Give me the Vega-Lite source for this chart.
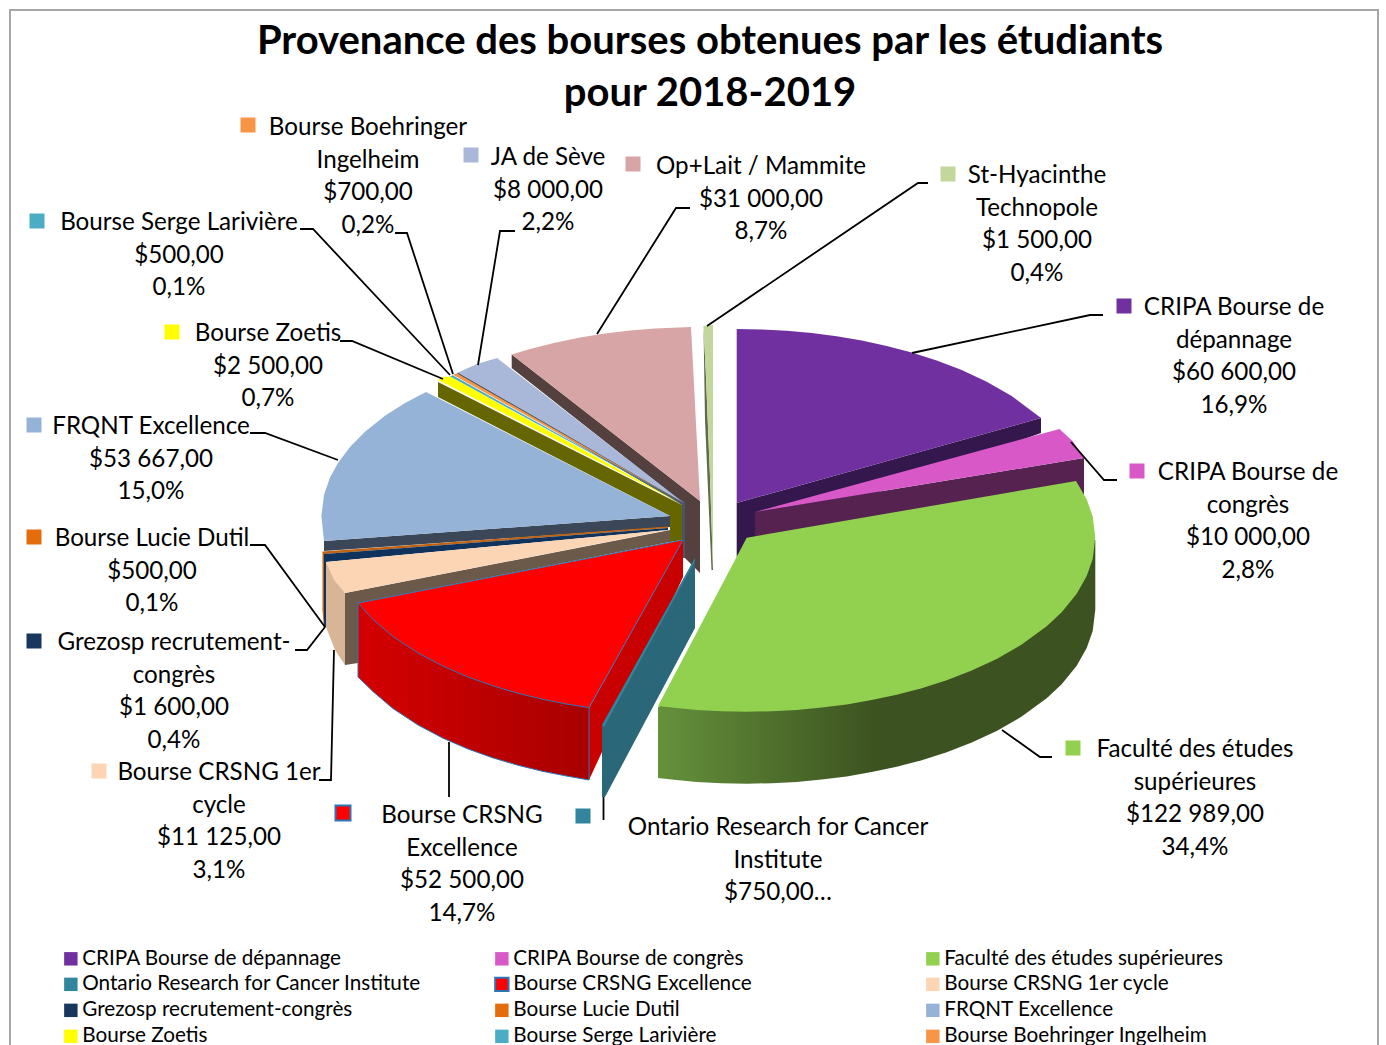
{
"$schema":"https://vega.github.io/schema/vega-lite/v6.json",
"width":1386,"height":1045,"padding":0,"autosize":"none","background":"white",
"config":{"view":{"stroke":null},"font":"Lato"},
"title":{"text":["Provenance des bourses obtenues par les étudiants","pour 2018-2019"],"font":"Lato","fontSize":40,"fontWeight":"bold","color":"#000000","lineHeight":52,"anchor":"middle","orient":"top","offset":0,"baseline":"top","dx":17,"dy":114},
"datasets":{
"border":[{"x":10,"y":1046,"step":1},{"x":10,"y":10,"step":2},{"x":1378,"y":10,"step":3},{"x":1378,"y":1046,"step":4}],
"slices":[
{"name":"CRIPA Bourse de dépannage","amount":60600,"label":"CRIPA Bourse de\ndépannage\n$60 600,00\n16,9%","labelX":1234,"labelY":307,"keyX":1124,"keyY":306},
{"name":"CRIPA Bourse de congrès","amount":10000,"label":"CRIPA Bourse de\ncongrès\n$10 000,00\n2,8%","labelX":1248,"labelY":472,"keyX":1137,"keyY":471},
{"name":"Faculté des études supérieures","amount":122989,"label":"Faculté des études\nsupérieures\n$122 989,00\n34,4%","labelX":1195,"labelY":749,"keyX":1073,"keyY":748},
{"name":"Ontario Research for Cancer Institute","amount":750,"label":"Ontario Research for Cancer\nInstitute\n$750,00…","labelX":778,"labelY":827,"keyX":583,"keyY":816},
{"name":"Bourse CRSNG Excellence","amount":52500,"label":"Bourse CRSNG\nExcellence\n$52 500,00\n14,7%","labelX":462,"labelY":815,"keyX":343,"keyY":813},
{"name":"Bourse CRSNG 1er cycle","amount":11125,"label":"Bourse CRSNG 1er\ncycle\n$11 125,00\n3,1%","labelX":219,"labelY":772,"keyX":99,"keyY":771},
{"name":"Grezosp recrutement-congrès","amount":1600,"label":"Grezosp recrutement-\ncongrès\n$1 600,00\n0,4%","labelX":174,"labelY":642,"keyX":34,"keyY":641},
{"name":"Bourse Lucie Dutil","amount":500,"label":"Bourse Lucie Dutil\n$500,00\n0,1%","labelX":152,"labelY":538,"keyX":34,"keyY":537},
{"name":"FRQNT Excellence","amount":53667,"label":"FRQNT Excellence\n$53 667,00\n15,0%","labelX":151,"labelY":426,"keyX":34,"keyY":425},
{"name":"Bourse Zoetis","amount":2500,"label":"Bourse Zoetis\n$2 500,00\n0,7%","labelX":268,"labelY":333,"keyX":172,"keyY":332},
{"name":"Bourse Serge Larivière","amount":500,"label":"Bourse Serge Larivière\n$500,00\n0,1%","labelX":179,"labelY":222,"keyX":37,"keyY":221},
{"name":"Bourse Boehringer Ingelheim","amount":700,"label":"Bourse Boehringer\nIngelheim\n$700,00\n0,2%","labelX":368,"labelY":127,"keyX":248,"keyY":125},
{"name":"JA de Sève","amount":8000,"label":"JA de Sève\n$8 000,00\n2,2%","labelX":548,"labelY":157,"keyX":471,"keyY":155},
{"name":"Op+Lait / Mammite","amount":31000,"label":"Op+Lait / Mammite\n$31 000,00\n8,7%","labelX":761,"labelY":166,"keyX":633,"keyY":164},
{"name":"St-Hyacinthe Technopole","amount":1500,"label":"St-Hyacinthe\nTechnopole\n$1 500,00\n0,4%","labelX":1037,"labelY":175,"keyX":948,"keyY":174}
],
"sides":[
{"part":"St-Hyacinthe","step":1,"x":703.5,"y":326},{"part":"St-Hyacinthe","step":2,"x":706,"y":377},{"part":"St-Hyacinthe","step":3,"x":710,"y":477},{"part":"St-Hyacinthe","step":4,"x":713,"y":570},{"part":"St-Hyacinthe","step":5,"x":711.5,"y":570},{"part":"St-Hyacinthe","step":6,"x":705,"y":420},
{"part":"Op+Lait","step":1,"x":511.7,"y":354.5},{"part":"Op+Lait","step":2,"x":511.7,"y":368},{"part":"Op+Lait","step":3,"x":683,"y":503},{"part":"Op+Lait","step":4,"x":685,"y":558},{"part":"Op+Lait","step":5,"x":700,"y":573},{"part":"Op+Lait","step":6,"x":700,"y":501},
{"part":"JA de Sève","step":1,"x":457,"y":374},{"part":"JA de Sève","step":2,"x":458,"y":372.5},{"part":"JA de Sève","step":3,"x":685,"y":502},{"part":"JA de Sève","step":4,"x":685,"y":558},{"part":"JA de Sève","step":5,"x":682,"y":558},{"part":"JA de Sève","step":6,"x":682,"y":505},
{"part":"Zoetis","step":1,"x":438,"y":382},{"part":"Zoetis","step":2,"x":438,"y":397},{"part":"Zoetis","step":3,"x":670,"y":516},{"part":"Zoetis","step":4,"x":670,"y":542},{"part":"Zoetis","step":5,"x":682,"y":540},{"part":"Zoetis","step":6,"x":682,"y":505},
{"part":"FRQNT","step":1,"x":324,"y":541},{"part":"FRQNT","step":2,"x":670,"y":516},{"part":"FRQNT","step":3,"x":670,"y":527},{"part":"FRQNT","step":4,"x":324,"y":551},
{"part":"Lucie Dutil","step":1,"x":322.5,"y":551.5},{"part":"Lucie Dutil","step":2,"x":668,"y":526.5},{"part":"Lucie Dutil","step":3,"x":668,"y":528},{"part":"Lucie Dutil","step":4,"x":324,"y":554},{"part":"Lucie Dutil","step":5,"x":324,"y":628},{"part":"Lucie Dutil","step":6,"x":322.5,"y":610},
{"part":"Grezosp","step":1,"x":324,"y":554},{"part":"Grezosp","step":2,"x":668,"y":528},{"part":"Grezosp","step":3,"x":668,"y":530},{"part":"Grezosp","step":4,"x":326,"y":562},{"part":"Grezosp","step":5,"x":326,"y":627},{"part":"Grezosp","step":6,"x":324,"y":628},
{"part":"1er cycle extérieur","step":1,"x":326,"y":562},{"part":"1er cycle extérieur","step":2,"x":345,"y":593},{"part":"1er cycle extérieur","step":3,"x":345,"y":665},{"part":"1er cycle extérieur","step":4,"x":335,"y":650},{"part":"1er cycle extérieur","step":5,"x":326,"y":627},
{"part":"1er cycle coupe","step":1,"x":345,"y":593},{"part":"1er cycle coupe","step":2,"x":670,"y":530},{"part":"1er cycle coupe","step":3,"x":670,"y":542},{"part":"1er cycle coupe","step":4,"x":358,"y":603},{"part":"1er cycle coupe","step":5,"x":358,"y":663},{"part":"1er cycle coupe","step":6,"x":345,"y":665},
{"part":"Excellence coupe","step":1,"x":589,"y":708},{"part":"Excellence coupe","step":2,"x":683,"y":540},{"part":"Excellence coupe","step":3,"x":683,"y":577},{"part":"Excellence coupe","step":4,"x":589,"y":780},
{"part":"Ontario","step":1,"x":695,"y":558},{"part":"Ontario","step":2,"x":695,"y":628},{"part":"Ontario","step":3,"x":605,"y":797},{"part":"Ontario","step":4,"x":602,"y":797},{"part":"Ontario","step":5,"x":602,"y":725},
{"part":"dépannage","step":1,"x":736.7,"y":503},{"part":"dépannage","step":2,"x":1041,"y":418},{"part":"dépannage","step":3,"x":1041,"y":433},{"part":"dépannage","step":4,"x":755,"y":537},{"part":"dépannage","step":5,"x":736.7,"y":557},
{"part":"congrès","step":1,"x":755,"y":512},{"part":"congrès","step":2,"x":1084,"y":458},{"part":"congrès","step":3,"x":1084,"y":497},{"part":"congrès","step":4,"x":1076,"y":500},{"part":"congrès","step":5,"x":755,"y":537},
{"part":"Faculté avant","step":1,"x":658,"y":707},{"part":"Faculté avant","step":2,"x":658,"y":778},{"part":"Faculté avant","step":3,"x":671.7,"y":779.6},{"part":"Faculté avant","step":4,"x":696.7,"y":781.9},{"part":"Faculté avant","step":5,"x":721.7,"y":783.2},{"part":"Faculté avant","step":6,"x":746.7,"y":783.7},{"part":"Faculté avant","step":7,"x":771.7,"y":783.2},{"part":"Faculté avant","step":8,"x":796.7,"y":781.9},{"part":"Faculté avant","step":9,"x":821.7,"y":779.6},{"part":"Faculté avant","step":10,"x":846.7,"y":776.4},{"part":"Faculté avant","step":11,"x":871.7,"y":772.1},{"part":"Faculté avant","step":12,"x":896.7,"y":766.8},{"part":"Faculté avant","step":13,"x":921.7,"y":760.2},{"part":"Faculté avant","step":14,"x":946.7,"y":752.2},{"part":"Faculté avant","step":15,"x":971.7,"y":742.6},{"part":"Faculté avant","step":16,"x":996.7,"y":731},{"part":"Faculté avant","step":17,"x":1021.7,"y":716.6},{"part":"Faculté avant","step":18,"x":1046.7,"y":698.3},{"part":"Faculté avant","step":19,"x":1061.7,"y":684.2},{"part":"Faculté avant","step":20,"x":1076.7,"y":665.8},{"part":"Faculté avant","step":21,"x":1086.7,"y":648},{"part":"Faculté avant","step":22,"x":1092.7,"y":631},{"part":"Faculté avant","step":23,"x":1095.3,"y":609.7},{"part":"Faculté avant","step":24,"x":1095.3,"y":540},{"part":"Faculté avant","step":25,"x":900,"y":600},
{"part":"Excellence avant","step":1,"x":358,"y":603},{"part":"Excellence avant","step":2,"x":358,"y":677},{"part":"Excellence avant","step":3,"x":373,"y":691.6},{"part":"Excellence avant","step":4,"x":393,"y":708.6},{"part":"Excellence avant","step":5,"x":418,"y":725},{"part":"Excellence avant","step":6,"x":443,"y":738.2},{"part":"Excellence avant","step":7,"x":468,"y":749},{"part":"Excellence avant","step":8,"x":493,"y":757.9},{"part":"Excellence avant","step":9,"x":518,"y":765.3},{"part":"Excellence avant","step":10,"x":543,"y":771.4},{"part":"Excellence avant","step":11,"x":568,"y":776.3},{"part":"Excellence avant","step":12,"x":589,"y":780},{"part":"Excellence avant","step":13,"x":589,"y":707.6},{"part":"Excellence avant","step":14,"x":500,"y":680}
],
"tops":[
{"slice":"St-Hyacinthe Technopole","step":1,"x":703.5,"y":326},{"slice":"St-Hyacinthe Technopole","step":2,"x":713,"y":325},{"slice":"St-Hyacinthe Technopole","step":3,"x":713,"y":568},{"slice":"St-Hyacinthe Technopole","step":4,"x":710,"y":477},{"slice":"St-Hyacinthe Technopole","step":5,"x":706,"y":377},
{"slice":"Op+Lait / Mammite","step":1,"x":511.7,"y":354.6},{"slice":"Op+Lait / Mammite","step":2,"x":530,"y":349.1},{"slice":"Op+Lait / Mammite","step":3,"x":555,"y":342.8},{"slice":"Op+Lait / Mammite","step":4,"x":580,"y":337.6},{"slice":"Op+Lait / Mammite","step":5,"x":605,"y":333.6},{"slice":"Op+Lait / Mammite","step":6,"x":630,"y":330.5},{"slice":"Op+Lait / Mammite","step":7,"x":655,"y":328.5},{"slice":"Op+Lait / Mammite","step":8,"x":691,"y":327},{"slice":"Op+Lait / Mammite","step":9,"x":700,"y":501},
{"slice":"JA de Sève","step":1,"x":458,"y":372.5},{"slice":"JA de Sève","step":2,"x":477,"y":364},{"slice":"JA de Sève","step":3,"x":497,"y":358},{"slice":"JA de Sève","step":4,"x":684,"y":503},
{"slice":"Bourse Boehringer Ingelheim","step":1,"x":453,"y":374.8},{"slice":"Bourse Boehringer Ingelheim","step":2,"x":456.7,"y":373.3},{"slice":"Bourse Boehringer Ingelheim","step":3,"x":683,"y":502.5},
{"slice":"Bourse Serge Larivière","step":1,"x":450,"y":376.5},{"slice":"Bourse Serge Larivière","step":2,"x":452.7,"y":375.3},{"slice":"Bourse Serge Larivière","step":3,"x":682.5,"y":503},
{"slice":"Bourse Zoetis","step":1,"x":438,"y":380},{"slice":"Bourse Zoetis","step":2,"x":443,"y":377},{"slice":"Bourse Zoetis","step":3,"x":450,"y":376.5},{"slice":"Bourse Zoetis","step":4,"x":682,"y":504},
{"slice":"FRQNT Excellence","step":1,"x":670,"y":516},{"slice":"FRQNT Excellence","step":2,"x":426,"y":392},{"slice":"FRQNT Excellence","step":3,"x":405,"y":403},{"slice":"FRQNT Excellence","step":4,"x":385,"y":415.8},{"slice":"FRQNT Excellence","step":5,"x":365,"y":431.7},{"slice":"FRQNT Excellence","step":6,"x":350,"y":447},{"slice":"FRQNT Excellence","step":7,"x":338,"y":463},{"slice":"FRQNT Excellence","step":8,"x":330,"y":477.6},{"slice":"FRQNT Excellence","step":9,"x":324,"y":494.8},{"slice":"FRQNT Excellence","step":10,"x":321.4,"y":516},{"slice":"FRQNT Excellence","step":11,"x":324,"y":541},
{"slice":"Bourse CRSNG 1er cycle","step":1,"x":668,"y":530},{"slice":"Bourse CRSNG 1er cycle","step":2,"x":326,"y":562},{"slice":"Bourse CRSNG 1er cycle","step":3,"x":334,"y":580},{"slice":"Bourse CRSNG 1er cycle","step":4,"x":345,"y":593},
{"slice":"Bourse CRSNG Excellence","step":1,"x":683,"y":540},{"slice":"Bourse CRSNG Excellence","step":2,"x":358,"y":603},{"slice":"Bourse CRSNG Excellence","step":3,"x":373,"y":619.6},{"slice":"Bourse CRSNG Excellence","step":4,"x":393,"y":636.6},{"slice":"Bourse CRSNG Excellence","step":5,"x":418,"y":653},{"slice":"Bourse CRSNG Excellence","step":6,"x":443,"y":666.2},{"slice":"Bourse CRSNG Excellence","step":7,"x":468,"y":677},{"slice":"Bourse CRSNG Excellence","step":8,"x":493,"y":685.9},{"slice":"Bourse CRSNG Excellence","step":9,"x":518,"y":693.3},{"slice":"Bourse CRSNG Excellence","step":10,"x":543,"y":699.4},{"slice":"Bourse CRSNG Excellence","step":11,"x":568,"y":704.3},{"slice":"Bourse CRSNG Excellence","step":12,"x":589,"y":707.6},
{"slice":"Ontario Research for Cancer Institute","step":1,"x":602,"y":725},{"slice":"Ontario Research for Cancer Institute","step":2,"x":695,"y":558},{"slice":"Ontario Research for Cancer Institute","step":3,"x":695,"y":561},{"slice":"Ontario Research for Cancer Institute","step":4,"x":604,"y":727},
{"slice":"CRIPA Bourse de dépannage","step":1,"x":736.7,"y":503},{"slice":"CRIPA Bourse de dépannage","step":2,"x":736.7,"y":329},{"slice":"CRIPA Bourse de dépannage","step":3,"x":761.7,"y":329.4},{"slice":"CRIPA Bourse de dépannage","step":4,"x":786.7,"y":330.8},{"slice":"CRIPA Bourse de dépannage","step":5,"x":811.7,"y":333.1},{"slice":"CRIPA Bourse de dépannage","step":6,"x":836.7,"y":336.3},{"slice":"CRIPA Bourse de dépannage","step":7,"x":861.7,"y":340.6},{"slice":"CRIPA Bourse de dépannage","step":8,"x":886.7,"y":345.9},{"slice":"CRIPA Bourse de dépannage","step":9,"x":911.7,"y":352.5},{"slice":"CRIPA Bourse de dépannage","step":10,"x":936.7,"y":360.5},{"slice":"CRIPA Bourse de dépannage","step":11,"x":961.7,"y":370.1},{"slice":"CRIPA Bourse de dépannage","step":12,"x":986.7,"y":381.7},{"slice":"CRIPA Bourse de dépannage","step":13,"x":1011.7,"y":396.1},{"slice":"CRIPA Bourse de dépannage","step":14,"x":1041,"y":418},
{"slice":"CRIPA Bourse de congrès","step":1,"x":755,"y":512},{"slice":"CRIPA Bourse de congrès","step":2,"x":1059.5,"y":429},{"slice":"CRIPA Bourse de congrès","step":3,"x":1073,"y":441.5},{"slice":"CRIPA Bourse de congrès","step":4,"x":1084,"y":458},
{"slice":"Faculté des études supérieures","step":1,"x":746.7,"y":537.7},{"slice":"Faculté des études supérieures","step":2,"x":1076,"y":481},{"slice":"Faculté des études supérieures","step":3,"x":1086.7,"y":499.3},{"slice":"Faculté des études supérieures","step":4,"x":1092.7,"y":516.5},{"slice":"Faculté des études supérieures","step":5,"x":1095.3,"y":537.7},{"slice":"Faculté des études supérieures","step":6,"x":1092.7,"y":558.9},{"slice":"Faculté des études supérieures","step":7,"x":1086.7,"y":576.1},{"slice":"Faculté des études supérieures","step":8,"x":1076.7,"y":593.8},{"slice":"Faculté des études supérieures","step":9,"x":1061.7,"y":612.2},{"slice":"Faculté des études supérieures","step":10,"x":1046.7,"y":626.3},{"slice":"Faculté des études supérieures","step":11,"x":1021.7,"y":644.6},{"slice":"Faculté des études supérieures","step":12,"x":996.7,"y":659},{"slice":"Faculté des études supérieures","step":13,"x":971.7,"y":670.6},{"slice":"Faculté des études supérieures","step":14,"x":946.7,"y":680.2},{"slice":"Faculté des études supérieures","step":15,"x":921.7,"y":688.2},{"slice":"Faculté des études supérieures","step":16,"x":896.7,"y":694.8},{"slice":"Faculté des études supérieures","step":17,"x":871.7,"y":700.1},{"slice":"Faculté des études supérieures","step":18,"x":846.7,"y":704.4},{"slice":"Faculté des études supérieures","step":19,"x":821.7,"y":707.6},{"slice":"Faculté des études supérieures","step":20,"x":796.7,"y":709.9},{"slice":"Faculté des études supérieures","step":21,"x":771.7,"y":711.2},{"slice":"Faculté des études supérieures","step":22,"x":746.7,"y":711.7},{"slice":"Faculté des études supérieures","step":23,"x":721.7,"y":711.2},{"slice":"Faculté des études supérieures","step":24,"x":696.7,"y":709.9},{"slice":"Faculté des études supérieures","step":25,"x":671.7,"y":707.6},{"slice":"Faculté des études supérieures","step":26,"x":658,"y":706}
],
"leaders":[
{"to":"dépannage","step":1,"x":912,"y":353},{"to":"dépannage","step":2,"x":1090,"y":315},{"to":"dépannage","step":3,"x":1103,"y":315},
{"to":"congrès","step":1,"x":1071,"y":442},{"to":"congrès","step":2,"x":1104,"y":480},{"to":"congrès","step":3,"x":1117,"y":480},
{"to":"Faculté","step":1,"x":1002,"y":730},{"to":"Faculté","step":2,"x":1040,"y":757},{"to":"Faculté","step":3,"x":1052,"y":757},
{"to":"Ontario","step":1,"x":603.5,"y":797},{"to":"Ontario","step":2,"x":603.5,"y":820},
{"to":"Excellence","step":1,"x":449,"y":742},{"to":"Excellence","step":2,"x":449,"y":797},
{"to":"1er cycle","step":1,"x":334,"y":650},{"to":"1er cycle","step":2,"x":331,"y":780},{"to":"1er cycle","step":3,"x":319,"y":780},
{"to":"Grezosp","step":1,"x":325,"y":627},{"to":"Grezosp","step":2,"x":307,"y":650},{"to":"Grezosp","step":3,"x":295,"y":650},
{"to":"Lucie","step":1,"x":325,"y":627},{"to":"Lucie","step":2,"x":265,"y":545},{"to":"Lucie","step":3,"x":250,"y":545},
{"to":"FRQNT","step":1,"x":338,"y":460},{"to":"FRQNT","step":2,"x":265,"y":433},{"to":"FRQNT","step":3,"x":250,"y":433},
{"to":"Zoetis","step":1,"x":443,"y":379},{"to":"Zoetis","step":2,"x":352,"y":341},{"to":"Zoetis","step":3,"x":340,"y":341},
{"to":"Serge","step":1,"x":450,"y":375},{"to":"Serge","step":2,"x":313,"y":229},{"to":"Serge","step":3,"x":300,"y":229},
{"to":"Boehringer","step":1,"x":453,"y":374},{"to":"Boehringer","step":2,"x":407,"y":233},{"to":"Boehringer","step":3,"x":395,"y":233},
{"to":"JA","step":1,"x":478,"y":365},{"to":"JA","step":2,"x":500,"y":231},{"to":"JA","step":3,"x":515,"y":231},
{"to":"Op","step":1,"x":597,"y":334},{"to":"Op","step":2,"x":676,"y":208},{"to":"Op","step":3,"x":690,"y":208},
{"to":"St-H","step":1,"x":707,"y":326},{"to":"St-H","step":2,"x":918,"y":183},{"to":"St-H","step":3,"x":928,"y":183}
]
},
"encoding":{
"x":{"field":"x","type":"quantitative","scale":{"domain":[0,1386],"nice":false,"zero":false},"axis":null},
"y":{"field":"y","type":"quantitative","scale":{"domain":[1045,0],"nice":false,"zero":false},"axis":null}
},
"resolve":{"scale":{"fill":"independent","stroke":"independent"}},
"layer":[
{"data":{"name":"border"},"mark":{"type":"line","stroke":"#a6a6a6","strokeWidth":2,"clip":false},"encoding":{"order":{"field":"step","type":"quantitative"}}},
{"data":{"name":"sides"},"transform":[{"filter":"datum.part !== 'Faculté avant' && datum.part !== 'Excellence avant'"}],
"mark":{"type":"line","interpolate":"linear-closed","strokeWidth":0},
"encoding":{"detail":{"field":"part"},"order":{"field":"step","type":"quantitative"},
"fill":{"field":"part","type":"nominal","legend":null,"scale":{"domain":["St-Hyacinthe","Op+Lait","JA de Sève","Zoetis","FRQNT","Lucie Dutil","Grezosp","1er cycle extérieur","1er cycle coupe","Excellence coupe","Ontario","dépannage","congrès"],"range":["#5f6b4c","#554040","#4a5568","#666600","#3b4758","#c0620f","#0f335c","#d9b597","#6b5a4a","#c80000","#2a6779","#33174d","#562350"]}}}},
{"data":{"name":"sides"},"transform":[{"filter":"datum.part === 'Faculté avant'"}],
"mark":{"type":"line","interpolate":"linear-closed","strokeWidth":0,"fill":{"gradient":"linear","x1":0,"y1":0,"x2":1,"y2":0,"stops":[{"offset":0,"color":"#65913b"},{"offset":0.5,"color":"#3c5220"},{"offset":1,"color":"#3c5220"}]}},
"encoding":{"order":{"field":"step","type":"quantitative"}}},
{"data":{"name":"sides"},"transform":[{"filter":"datum.part === 'Excellence avant'"}],
"mark":{"type":"line","interpolate":"linear-closed","stroke":"#2e75b6","strokeWidth":1,"fill":{"gradient":"linear","x1":0,"y1":0,"x2":1,"y2":0,"stops":[{"offset":0,"color":"#d40000"},{"offset":1,"color":"#a80000"}]}},
"encoding":{"order":{"field":"step","type":"quantitative"}}},
{"data":{"name":"tops"},
"mark":{"type":"line","interpolate":"linear-closed","strokeWidth":1},
"encoding":{"detail":{"field":"slice"},"order":{"field":"step","type":"quantitative"},
"fill":{"field":"slice","type":"nominal","title":null,
"scale":{"domain":["CRIPA Bourse de dépannage","CRIPA Bourse de congrès","Faculté des études supérieures","Ontario Research for Cancer Institute","Bourse CRSNG Excellence","Bourse CRSNG 1er cycle","Grezosp recrutement-congrès","Bourse Lucie Dutil","FRQNT Excellence","Bourse Zoetis","Bourse Serge Larivière","Bourse Boehringer Ingelheim","JA de Sève","Op+Lait / Mammite","St-Hyacinthe Technopole"],"range":["#7030a0","#d858c8","#92d050","#31859c","#ff0000","#fcd5b5","#17375e","#e46c0a","#95b3d7","#ffff00","#4bacc6","#f79646","#a9b8d9","#d7a5a5","#c3d69b"]},
"legend":{"values":["CRIPA Bourse de dépannage","CRIPA Bourse de congrès","Faculté des études supérieures","Ontario Research for Cancer Institute","Bourse CRSNG Excellence","Bourse CRSNG 1er cycle","Grezosp recrutement-congrès","Bourse Lucie Dutil","FRQNT Excellence","Bourse Zoetis","Bourse Serge Larivière","Bourse Boehringer Ingelheim"],"orient":"none","legendX":60.5,"legendY":948,"columns":3,"direction":"horizontal","gridAlign":"all","symbolType":"square","symbolSize":180,"symbolStrokeWidth":2,"labelFont":"Lato","labelFontSize":20.7,"labelColor":"#000000","labelLimit":420,"labelOffset":1,"columnPadding":69,"rowPadding":3,"padding":0}},
"stroke":{"field":"slice","type":"nominal","title":null,
"legend":{"values":["CRIPA Bourse de dépannage","CRIPA Bourse de congrès","Faculté des études supérieures","Ontario Research for Cancer Institute","Bourse CRSNG Excellence","Bourse CRSNG 1er cycle","Grezosp recrutement-congrès","Bourse Lucie Dutil","FRQNT Excellence","Bourse Zoetis","Bourse Serge Larivière","Bourse Boehringer Ingelheim"],"orient":"none","legendX":60.5,"legendY":948,"columns":3,"direction":"horizontal","gridAlign":"all","symbolType":"square","symbolSize":180,"symbolStrokeWidth":2,"labelFont":"Lato","labelFontSize":20.7,"labelColor":"#000000","labelLimit":420,"labelOffset":1,"columnPadding":69,"rowPadding":3,"padding":0},
"scale":{"domain":["CRIPA Bourse de dépannage","CRIPA Bourse de congrès","Faculté des études supérieures","Ontario Research for Cancer Institute","Bourse CRSNG Excellence","Bourse CRSNG 1er cycle","Grezosp recrutement-congrès","Bourse Lucie Dutil","FRQNT Excellence","Bourse Zoetis","Bourse Serge Larivière","Bourse Boehringer Ingelheim","JA de Sève","Op+Lait / Mammite","St-Hyacinthe Technopole"],"range":["transparent","transparent","transparent","transparent","#2e75b6","transparent","transparent","transparent","transparent","transparent","transparent","transparent","transparent","transparent","transparent"]}}}},
{"data":{"name":"leaders"},"mark":{"type":"line","stroke":"#000000","strokeWidth":1.8},"encoding":{"detail":{"field":"to"},"order":{"field":"step","type":"quantitative"}}},
{"data":{"name":"slices"},"mark":{"type":"point","shape":"square","filled":true,"size":225,"opacity":1,"strokeWidth":2},
"encoding":{"x":{"field":"keyX","type":"quantitative"},"y":{"field":"keyY","type":"quantitative"},
"fill":{"field":"name","type":"nominal","legend":null,"scale":{"domain":["CRIPA Bourse de dépannage","CRIPA Bourse de congrès","Faculté des études supérieures","Ontario Research for Cancer Institute","Bourse CRSNG Excellence","Bourse CRSNG 1er cycle","Grezosp recrutement-congrès","Bourse Lucie Dutil","FRQNT Excellence","Bourse Zoetis","Bourse Serge Larivière","Bourse Boehringer Ingelheim","JA de Sève","Op+Lait / Mammite","St-Hyacinthe Technopole"],"range":["#7030a0","#d858c8","#92d050","#31859c","#ff0000","#fcd5b5","#17375e","#e46c0a","#95b3d7","#ffff00","#4bacc6","#f79646","#a9b8d9","#d7a5a5","#c3d69b"]}},
"stroke":{"field":"name","type":"nominal","legend":null,"scale":{"domain":["CRIPA Bourse de dépannage","CRIPA Bourse de congrès","Faculté des études supérieures","Ontario Research for Cancer Institute","Bourse CRSNG Excellence","Bourse CRSNG 1er cycle","Grezosp recrutement-congrès","Bourse Lucie Dutil","FRQNT Excellence","Bourse Zoetis","Bourse Serge Larivière","Bourse Boehringer Ingelheim","JA de Sève","Op+Lait / Mammite","St-Hyacinthe Technopole"],"range":["transparent","transparent","transparent","transparent","#2e75b6","transparent","transparent","transparent","transparent","transparent","transparent","transparent","transparent","transparent","transparent"]}}}},
{"data":{"name":"slices"},"mark":{"type":"text","font":"Lato","fontSize":24.2,"lineHeight":32.5,"lineBreak":"\n","align":"center","baseline":"middle","dy":1,"color":"#000000"},
"encoding":{"x":{"field":"labelX","type":"quantitative"},"y":{"field":"labelY","type":"quantitative"},"text":{"field":"label","type":"nominal"}}}
]
}
